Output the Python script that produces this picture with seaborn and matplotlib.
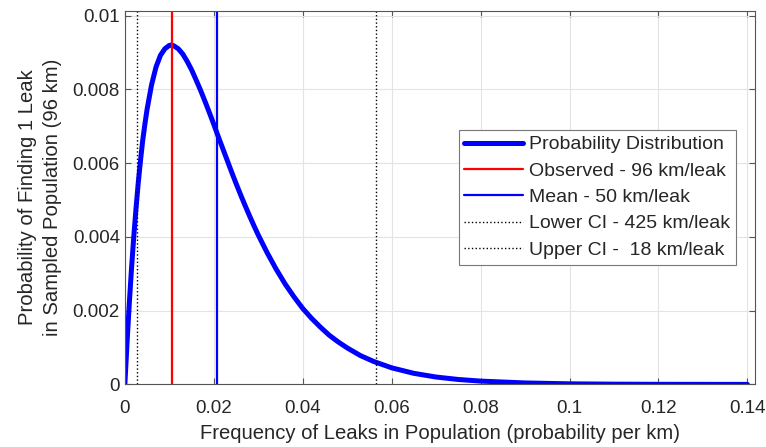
import numpy as np
import pandas as pd
import matplotlib
matplotlib.use('Agg')
import matplotlib.pyplot as plt
import seaborn as sns

# 곡선 값
freq = [0, 0.0005, 0.001, 0.0015, 0.002, 0.0025, 0.003, 0.0035, 0.004, 0.0045,
        0.005, 0.006, 0.007, 0.008, 0.009, 0.010, 0.0104, 0.011, 0.012, 0.013,
        0.014, 0.015, 0.016, 0.017, 0.018, 0.019, 0.020, 0.021, 0.022, 0.023,
        0.024, 0.025, 0.026, 0.027, 0.028, 0.029, 0.030, 0.032, 0.034, 0.036,
        0.038, 0.040, 0.042, 0.044, 0.046, 0.048, 0.050, 0.053, 0.056, 0.060,
        0.065, 0.070, 0.075, 0.080, 0.090, 0.100, 0.110, 0.120, 0.140]
prob = [0, 0.00115, 0.0022, 0.00315, 0.0040, 0.00476, 0.00545, 0.00605, 0.0066, 0.00705,
        0.00746, 0.00812, 0.0086, 0.00892, 0.0091, 0.00919, 0.0092, 0.00918, 0.0091, 0.00896,
        0.00876, 0.00853, 0.00826, 0.00798, 0.00768, 0.00737, 0.00705, 0.00672, 0.0064, 0.00608,
        0.00576, 0.00545, 0.00515, 0.00486, 0.00458, 0.00431, 0.00405, 0.00357, 0.00313, 0.00273,
        0.00238, 0.00206, 0.00179, 0.00155, 0.00133, 0.00115, 0.00099, 0.00078, 0.00062, 0.00045,
        0.0003, 0.0002, 0.000134, 0.00009, 0.00004, 0.000016, 0.000007, 0.000003, 0.0000005]

# 세로선 위치
observed = 0.0106
mean = 0.0207
lower_ci = 0.0028
upper_ci = 0.0564

df = pd.DataFrame({'freq': freq, 'prob': prob})

sns.set_style('whitegrid')
plt.rcParams['font.family'] = ['Liberation Sans', 'DejaVu Sans']

fig, ax = plt.subplots(figsize=(7.66, 4.47), dpi=100)
fig.subplots_adjust(left=0.163, right=0.985, top=0.976, bottom=0.140)

sns.lineplot(data=df, x='freq', y='prob', ax=ax, color='#0000ff', linewidth=3.6,
             label='Probability Distribution', solid_joinstyle='round', solid_capstyle='round')
ax.axvline(observed, color='#ff0000', linewidth=1.6, label='Observed - 96 km/leak')
ax.axvline(mean, color='#0000ff', linewidth=1.6, label='Mean - 50 km/leak')
ax.axvline(lower_ci, color='black', linestyle=':', linewidth=1.0, label='Lower CI - 425 km/leak')
ax.axvline(upper_ci, color='black', linestyle=':', linewidth=1.0, label='Upper CI -  18 km/leak')

ax.set_xlim(0, 0.1416)
ax.set_ylim(0, 0.01013)
ax.set_xticks([0, 0.02, 0.04, 0.06, 0.08, 0.1, 0.12, 0.14])
ax.set_xticklabels(['0', '0.02', '0.04', '0.06', '0.08', '0.1', '0.12', '0.14'])
ax.set_yticks([0, 0.002, 0.004, 0.006, 0.008, 0.01])
ax.set_yticklabels(['0', '0.002', '0.004', '0.006', '0.008', '0.01'])

ax.grid(True, color='#e3e3e3', linewidth=0.8)
for s in ax.spines.values():
    s.set_color('#555555')
    s.set_linewidth(0.8)
ax.tick_params(direction='in', length=4, color='#555555', labelsize=13.5,
               labelcolor='#262626', top=True, right=True, bottom=True, left=True)
ax.tick_params(axis='x', pad=11.5)

ax.set_xlabel('Frequency of Leaks in Population (probability per km)', fontsize=14.6,
              color='#262626', labelpad=5)
ax.set_ylabel('Probability of Finding 1 Leak\nin Sampled Population (96 km)', fontsize=14.6,
              color='#262626', linespacing=1.35, labelpad=8)

leg = ax.legend(loc='upper right', bbox_to_anchor=(0.97, 0.681), borderaxespad=0,
                fontsize=14, frameon=True, fancybox=False, framealpha=1,
                edgecolor='#777777', handlelength=3.0, handletextpad=0.3,
                labelspacing=0.45, borderpad=0.3)
leg.get_frame().set_linewidth(0.8)

plt.savefig('out.png', dpi=100)
